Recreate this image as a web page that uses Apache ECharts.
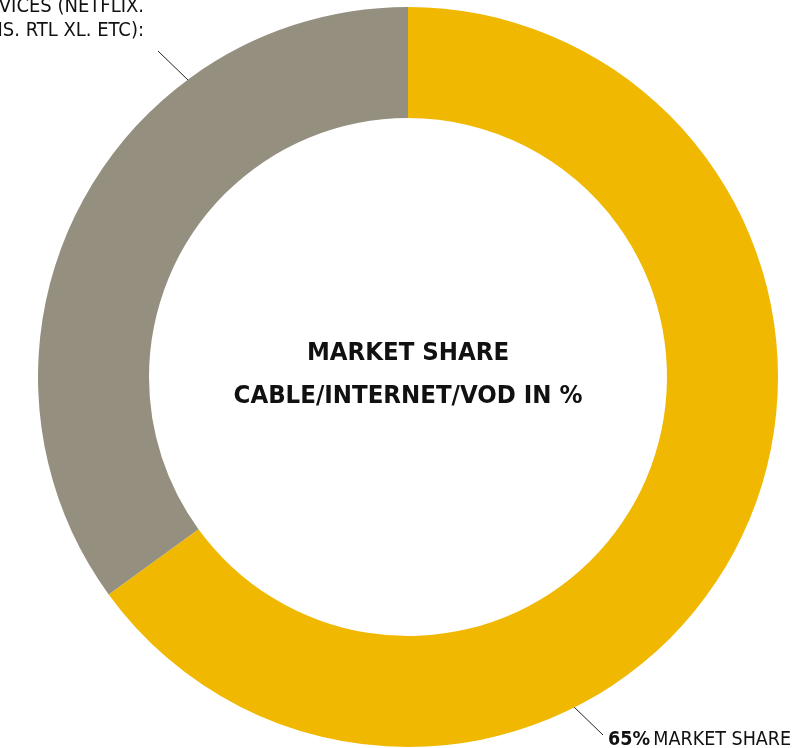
<!DOCTYPE html>
<html>
<head>
<meta charset="utf-8">
<script src="https://cdn.jsdelivr.net/npm/echarts@6/dist/echarts.min.js"></script>
<style>
html,body{margin:0;padding:0;background:#fff;}
#chart{width:808px;height:748px;}
</style>
</head>
<body>
<div id="chart"></div>
<script>
var categories = ['CABLE/INTERNET/VOD', 'STREAMING SERVICES'];
var shares = [65, 35];
var colors = ['#F0B800', '#958F80'];
var centerTitle = ['MARKET SHARE', 'CABLE/INTERNET/VOD IN %'];
var streamLabel = ['35% STREAMING SERVICES (NETFLIX.', 'VIDEOLAND. PATHÉ THUIS. RTL XL. ETC):'];

var FONT = '"Liberation Sans Narrow","DejaVu Sans Condensed","Roboto","Liberation Sans",sans-serif';

var chart = echarts.init(document.getElementById('chart'), null, {renderer: 'canvas'});
chart.setOption({
  backgroundColor: '#ffffff',
  animation: false,
  series: [{
    type: 'pie',
    center: [408, 377],
    radius: [259, 370],
    startAngle: 90,
    clockwise: true,
    label: {show: false},
    labelLine: {show: false},
    emphasis: {disabled: true},
    itemStyle: {borderWidth: 0},
    data: categories.map(function (c, i) {
      return {name: c, value: shares[i], itemStyle: {color: colors[i]}};
    })
  }],
  graphic: [
    {
      type: 'text', x: 408, y: 332,
      style: {
        text: centerTitle.join('\n'),
        font: 'bold 25.5px ' + FONT,
        fill: '#111', align: 'center', lineHeight: 43
      }
    },
    {
      type: 'line',
      shape: {x1: 188, y1: 80, x2: 158, y2: 51},
      style: {stroke: '#222', lineWidth: 1}
    },
    {
      type: 'text', x: 144, y: -5,
      style: {
        text: streamLabel.join('\n'),
        font: '20px ' + FONT,
        fill: '#111', align: 'right', lineHeight: 24
      }
    },
    {
      type: 'line',
      shape: {x1: 572, y1: 705, x2: 603, y2: 735},
      style: {stroke: '#222', lineWidth: 1}
    },
    {
      type: 'text', x: 608, y: 730,
      style: {
        text: '{b|' + shares[0] + '%} {n|MARKET SHARE}',
        rich: {
          b: {font: 'bold 19.5px ' + FONT, fill: '#111'},
          n: {font: '19.5px ' + FONT, fill: '#111'}
        }
      }
    }
  ]
});
</script>
</body>
</html>
